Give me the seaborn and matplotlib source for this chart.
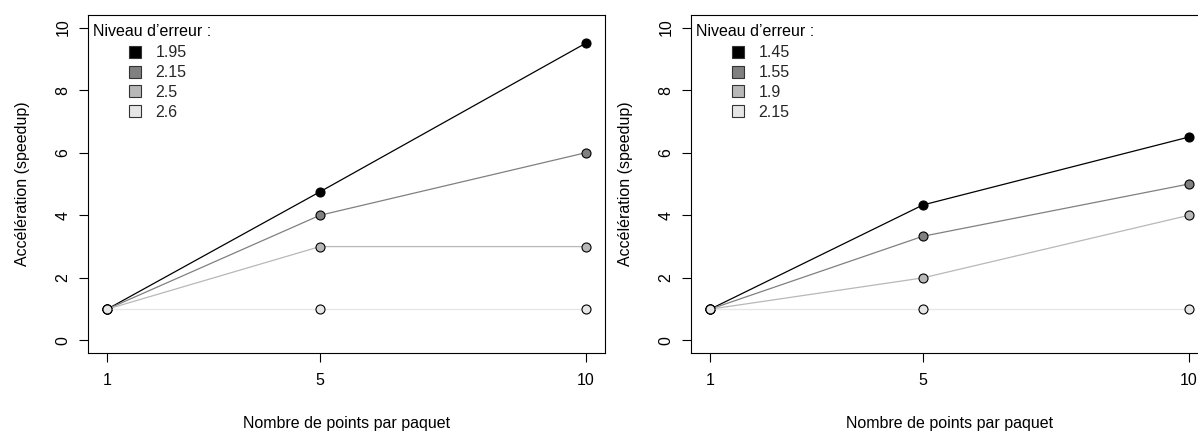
import matplotlib
matplotlib.use("Agg")
import matplotlib.pyplot as plt
from matplotlib.lines import Line2D
import seaborn as sns
import pandas as pd

# ---- data ----
x_points = [1, 5, 10]
left_levels = ["1.95", "2.15", "2.5", "2.6"]
left_values = {
    "1.95": [1, 4.75, 9.5],
    "2.15": [1, 4, 6],
    "2.5": [1, 3, 3],
    "2.6": [1, 1, 1],
}
right_levels = ["1.45", "1.55", "1.9", "2.15"]
right_values = {
    "1.45": [1, 4.33, 6.5],
    "1.55": [1, 3.33, 5],
    "1.9": [1, 2, 4],
    "2.15": [1, 1, 1],
}
grays = ["#000000", "#808080", "#b8b8b8", "#e6e6e6"]
xticks = [1, 5, 10]
yticks = [0, 2, 4, 6, 8, 10]
xlabel = "Nombre de points par paquet"
ylabel = "Accélération (speedup)"
legend_title = "Niveau d’erreur :"

sns.set_theme(style="white")
plt.rcParams["font.family"] = ["Liberation Sans", "DejaVu Sans"]
FS = 11.5
plt.rcParams["font.size"] = FS

W, H = 1198, 432
fig = plt.figure(figsize=(W / 100, H / 100), dpi=100)

ax_w = 517 / W
ax_h = 338 / H
ax_b = (H - 353) / H
axes = [fig.add_axes([88 / W, ax_b, ax_w, ax_h]),
        fig.add_axes([691 / W, ax_b, ax_w, ax_h])]

for ax, levels, values in [(axes[0], left_levels, left_values),
                           (axes[1], right_levels, right_values)]:
    rows = []
    for lv in levels:
        for xv, yv in zip(x_points, values[lv]):
            rows.append({"x": xv, "y": yv, "niveau": lv})
    df = pd.DataFrame(rows)
    pal = dict(zip(levels, grays))
    sns.lineplot(data=df, x="x", y="y", hue="niveau", hue_order=levels,
                 palette=pal, marker="o", markersize=6.5,
                 markeredgecolor="black", markeredgewidth=0.8,
                 linewidth=0.9, estimator=None, sort=False,
                 legend=False, ax=ax)

    ax.set_xlim(0.64, 10.36)
    ax.set_ylim(-0.4, 10.4)
    ax.set_xticks(xticks)
    ax.set_xticklabels([str(t) for t in xticks])
    ax.set_yticks(yticks)
    ax.set_yticklabels([str(t) for t in yticks], rotation=90, va="center")
    ax.tick_params(axis="both", bottom=True, left=True, direction="out",
                   length=6.5, width=0.8, color="black", labelsize=FS,
                   labelcolor="black")
    ax.tick_params(axis="x", pad=8)
    ax.tick_params(axis="y", pad=6)
    for sp in ax.spines.values():
        sp.set_color("black")
        sp.set_linewidth(0.8)
        sp.set_visible(True)

    ax.set_xlabel(xlabel, fontsize=FS, color="black")
    ax.set_ylabel(ylabel, fontsize=FS, color="black")
    ax.xaxis.set_label_coords(0.5, -0.21)
    ax.xaxis.label.set_va("center")
    ax.yaxis.set_label_coords(-0.127, 0.5)
    ax.yaxis.label.set_va("center")

    ax.text(0.0097, 0.952, legend_title, transform=ax.transAxes,
            ha="left", va="center", fontsize=FS, color="black")
    handles = [Line2D([], [], linestyle="none", marker="s", markersize=8,
                      markerfacecolor=c, markeredgecolor="#333333",
                      markeredgewidth=0.8) for c in grays]
    leg = ax.legend(handles, levels, loc="upper left",
                    bbox_to_anchor=(0.0745, 0.91), frameon=False,
                    borderpad=0, borderaxespad=0, handlelength=1.0,
                    handletextpad=0.8, labelspacing=0.3, fontsize=FS)

fig.savefig("out.png", dpi=100)
